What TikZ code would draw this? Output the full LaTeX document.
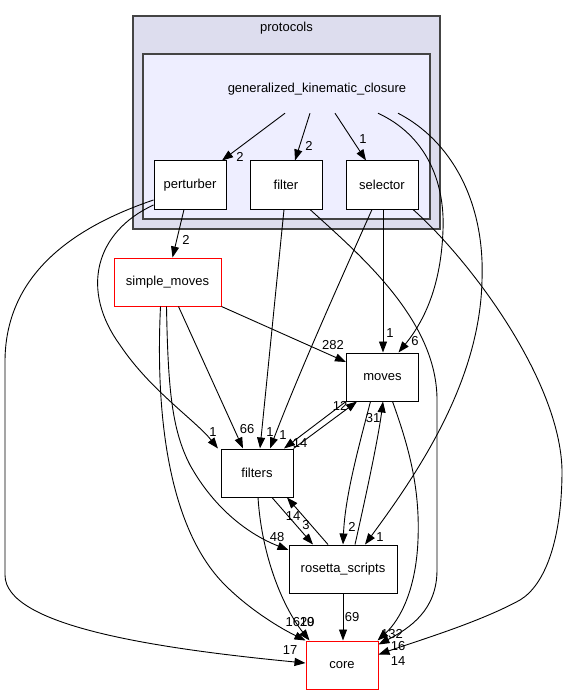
\documentclass[tikz,border=0pt]{standalone}
\usepackage{fontspec}
\setmainfont{Liberation Sans}
\usetikzlibrary{arrows.meta,calc}
\definecolor{clouter}{HTML}{DDDDEE}
\definecolor{clinner}{HTML}{EEEEFF}
\definecolor{clborder}{HTML}{444444}
\begin{document}
\begin{tikzpicture}[x=1pt,y=-1pt,
  font=\fontsize{13}{15}\selectfont,
  box/.style={draw=black, fill=white, line width=1pt, minimum width=72pt, minimum height=48pt, inner sep=0pt},
  redbox/.style={box, draw=red},
  cluster/.style={draw=clborder, line width=1.5pt, inner sep=0pt},
  lbl/.style={inner sep=0pt},
  edge/.style={draw, line width=0.9pt, -{Triangle[length=11pt,width=8pt]}}]
\useasboundingbox (0,0) rectangle (568,695);
% clusters
\node[cluster, fill=clouter, minimum width=307pt, minimum height=213pt] (protocols) at (286.5,122.5) {};
\node[lbl] (protocolslbl) at (286.5,28) {protocols};
\node[cluster, fill=clinner, minimum width=287pt, minimum height=165pt] (gkcbox) at (286.5,136.5) {};
\node[inner sep=0pt, minimum height=48pt] (gkc) at (317,89) {generalized\_kinematic\_closure};
% nodes
\node[box] (perturber) at (190,185) {perturber};
\node[box] (filter) at (286,185) {filter};
\node[box] (selector) at (382,185) {selector};
\node[redbox, minimum width=107pt] (simplemoves) at (167.5,282) {simple\_moves};
\node[box] (moves) at (382.5,377) {moves};
\node[box] (filters) at (257,473) {filters};
\node[box, minimum width=108pt] (rosetta) at (343,569) {rosetta\_scripts};
\node[redbox] (core) at (342,665) {core};
% edges from gkc
\draw[edge] ([xshift=-32pt]gkc.south) -- ([xshift=32pt]perturber.north);
\node[lbl] at (240,157) {2};
\draw[edge] ([xshift=-7pt]gkc.south) -- ([xshift=9pt]filter.north);
\node[lbl] at (309,146) {2};
\draw[edge] ([xshift=18pt]gkc.south) -- ([xshift=-16pt]selector.north);
\node[lbl] at (363,139) {1};
\draw[edge] ([xshift=61pt]gkc.south) .. controls (425,135) and (445,180) .. (443,230)
  .. controls (441,285) and (425,320) .. ([xshift=16pt]moves.north);
\node[lbl] at (415,341) {6};
\draw[edge] ([xshift=81pt]gkc.south) .. controls (450,140) and (485,200) .. (482,280)
  .. controls (480,380) and (420,470) .. ([xshift=22pt]rosetta.north);
\node[lbl] at (380,537) {1};
% perturber
\draw[edge] ([xshift=-6pt]perturber.south) -- ([xshift=5pt]simplemoves.north);
\node[lbl] at (186,240) {2};
\draw[edge] ([yshift=-20pt]perturber.west) .. controls (95,232) and (80,290) .. (120,345)
  .. controls (150,390) and (195,420) .. ([xshift=-39pt]filters.north);
\node[lbl] at (213,432) {1};
\draw[edge] ([yshift=-15pt]perturber.west) .. controls (80,225) and (6,270) .. (5,360)
  -- (5,575) .. controls (5,625) and (150,648) .. ([yshift=2pt]core.west);
\node[lbl] at (290,650) {17};
% filter
\draw[edge] ([xshift=-2pt]filter.south) -- ([xshift=3pt]filters.north);
\node[lbl] at (270,432) {1};
\draw[edge] ([xshift=24pt]filter.south) .. controls (360,255) and (437,320) .. (437,400)
  -- (437,570) .. controls (437,610) and (410,628) .. ([yshift=-4pt]core.north east);
\node[lbl] at (398,646) {16};
% selector
\draw[edge] ([xshift=1pt]selector.south) -- ([xshift=0.5pt]moves.north);
\node[lbl] at (390,333) {1};
\draw[edge] ([xshift=-10pt]selector.south) .. controls (345,270) and (300,370) .. ([xshift=13pt]filters.north);
\node[lbl] at (283,435) {1};
\draw[edge] ([xshift=31pt]selector.south) .. controls (470,260) and (560,380) .. (562,470)
  .. controls (562,540) and (545,585) .. (520,600) .. controls (480,622) and (420,640) .. ([yshift=-14pt]core.north east);
\node[lbl] at (398,661) {14};
% simple_moves
\draw[edge] (simplemoves.south east) -- ([yshift=15pt]moves.west);
\node[lbl] at (333,345) {282};
\draw[edge] ([xshift=11pt]simplemoves.south) -- ([xshift=-14pt]filters.north);
\node[lbl] at (247,429) {66};
\draw[edge] ([xshift=-1pt]simplemoves.south) .. controls (168,390) and (172,430) .. (190,465)
  .. controls (215,510) and (250,535) .. ([yshift=19pt]rosetta.west);
\node[lbl] at (277,537) {48};
\draw[edge] ([xshift=-7pt]simplemoves.south) .. controls (155,420) and (170,530) .. (225,585)
  .. controls (250,610) and (280,628) .. (core.north west);
\node[lbl] at (300,622) {1629};
% moves <-> filters
\draw[edge] (filters.north east) -- ([xshift=-25.5pt]moves.south);
\node[lbl] at (340,406) {12};
\draw[edge] (moves.south west) -- ([xshift=27pt]filters.north);
\node[lbl] at (300,443) {14};
% moves <-> rosetta
\draw[edge] ([xshift=-12pt]moves.south) .. controls (355,460) and (345,500) .. (rosetta.north);
\node[lbl] at (352,527) {2};
\draw[edge] ([xshift=12pt]rosetta.north) .. controls (365,500) and (378,440) .. ([xshift=0.5pt]moves.south);
\node[lbl] at (373,418) {31};
\draw[edge] ([xshift=10pt]moves.south) .. controls (410,450) and (420,490) .. (418,540)
  .. controls (416,590) and (400,620) .. ([xshift=-1pt]core.north east);
\node[lbl] at (392,634) {132};
% filters <-> rosetta
\draw[edge] ([xshift=15pt]filters.south) -- ([xshift=-30pt]rosetta.north);
\node[lbl] at (306,525) {3};
\draw[edge] ([xshift=-15pt]rosetta.north) -- ([xshift=30pt]filters.south);
\node[lbl] at (293,516) {14};
% to core
\draw[edge] ([xshift=1pt]filters.south) .. controls (262,560) and (285,610) .. ([xshift=4pt]core.north west);
\node[lbl] at (307,622) {10};
\draw[edge] (rosetta.south) -- ([xshift=1pt]core.north);
\node[lbl] at (352,617) {69};
\end{tikzpicture}
\end{document}
